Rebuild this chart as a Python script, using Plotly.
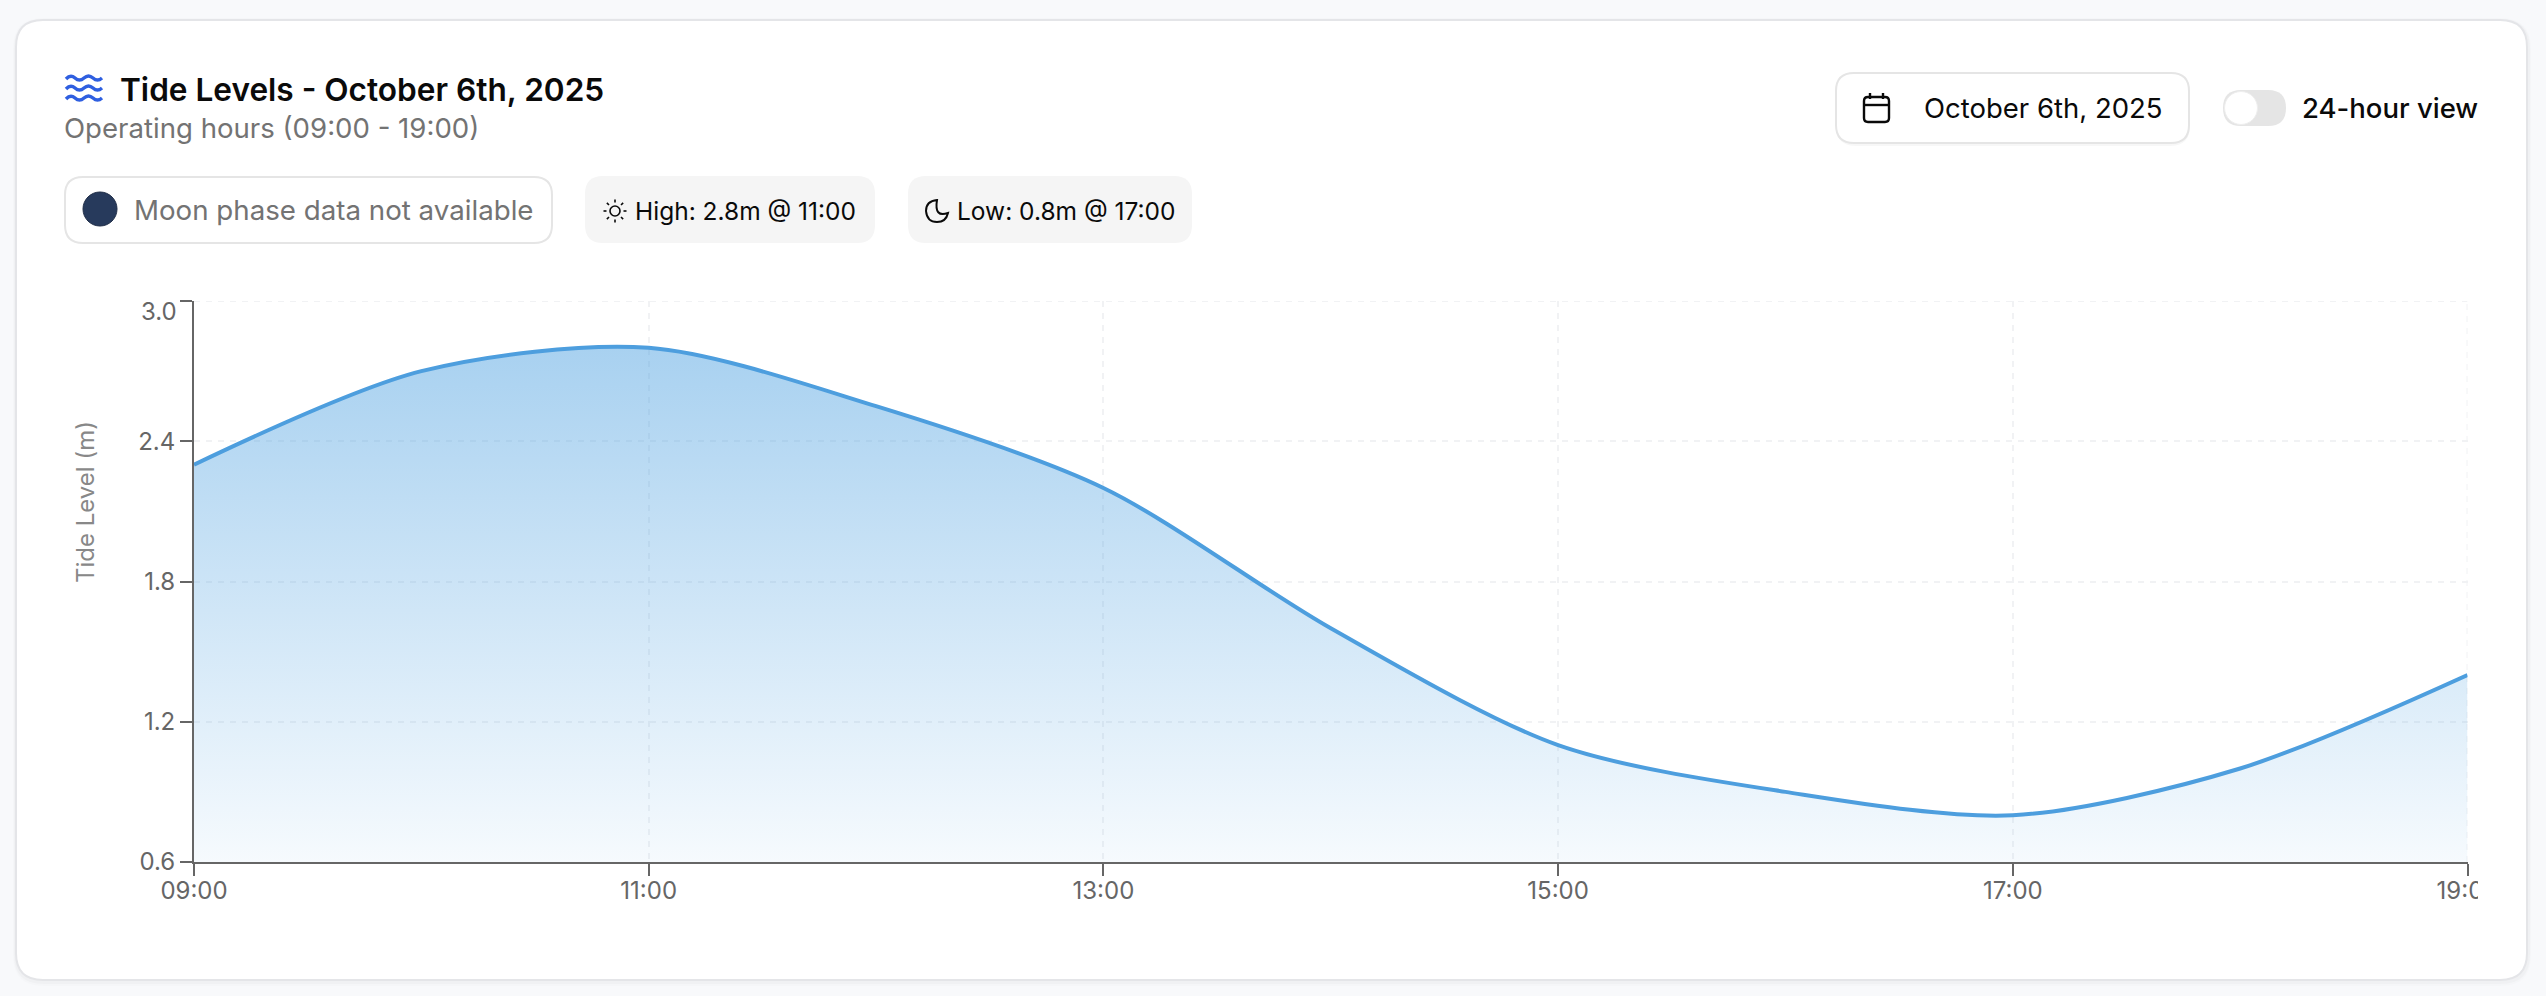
import math
import plotly.graph_objects as go

# values
hours = [9, 10, 11, 12, 13, 14, 15, 16, 17, 18, 19]
tide_level = [2.3, 2.7, 2.8, 2.55, 2.2, 1.6, 1.1, 0.9, 0.8, 1.0, 1.4]
baseline = [0.6] * len(hours)
x_ticks = [9, 11, 13, 15, 17, 19]
x_labels = ['09:00', '11:00', '13:00', '15:00', '17:00', '19:00']
y_ticks = [0.6, 1.2, 1.8, 2.4, 3.0]
y_labels = ['0.6', '1.2', '1.8', '2.4', '3.0']

W, H = 2546, 996
FONT = 'Inter'
DARK = '#0a0a0a'
GREY = '#737373'
AXIS = '#666666'
GRID = '#f1f2f4'


def fx(x):
    return x / W


def fy(y):
    return 1 - y / H


def rrect(x0, y0, x1, y1, r, fill='rgba(0,0,0,0)', line=None, width=2, layer='below'):
    p = (f'M {fx(x0 + r)} {fy(y0)} L {fx(x1 - r)} {fy(y0)} Q {fx(x1)} {fy(y0)} {fx(x1)} {fy(y0 + r)} '
         f'L {fx(x1)} {fy(y1 - r)} Q {fx(x1)} {fy(y1)} {fx(x1 - r)} {fy(y1)} '
         f'L {fx(x0 + r)} {fy(y1)} Q {fx(x0)} {fy(y1)} {fx(x0)} {fy(y1 - r)} '
         f'L {fx(x0)} {fy(y0 + r)} Q {fx(x0)} {fy(y0)} {fx(x0 + r)} {fy(y0)} Z')
    return dict(type='path', xref='paper', yref='paper', path=p, fillcolor=fill, layer=layer,
                line=dict(color=line if line else 'rgba(0,0,0,0)', width=width if line else 0))


def seg(x0, y0, x1, y1, color=DARK, width=2):
    return dict(type='line', xref='paper', yref='paper', x0=fx(x0), y0=fy(y0), x1=fx(x1), y1=fy(y1),
                layer='below', line=dict(color=color, width=width))


def circle(cx, cy, r, fill='rgba(0,0,0,0)', line=None, width=2, layer='below'):
    return dict(type='circle', xref='paper', yref='paper', x0=fx(cx - r), x1=fx(cx + r), y0=fy(cy - r), y1=fy(cy + r),
                fillcolor=fill, layer=layer,
                line=dict(color=line if line else 'rgba(0,0,0,0)', width=width if line else 0))


def wave(x0, y, w, color='#2f5fe0'):
    # two full periods, starting low
    s = w / 8
    a = 4
    p = f'M {fx(x0)} {fy(y + 1)}'
    for k in range(4):
        sign = -1 if k % 2 == 0 else 1
        p += f' Q {fx(x0 + (2 * k + 1) * s)} {fy(y + sign * a)} {fx(x0 + (2 * k + 2) * s)} {fy(y)}'
    return dict(type='path', xref='paper', yref='paper', path=p, layer='below', line=dict(color=color, width=3.4))


def label(x, y, text, size, color=DARK, weight=400):
    return dict(xref='paper', yref='paper', x=fx(x), y=fy(y), text=text, showarrow=False,
                xanchor='left', yanchor='middle', borderpad=0,
                font=dict(family=FONT, size=size, color=color, weight=weight))


fig = go.Figure()
fig.add_trace(go.Scatter(x=hours, y=baseline, mode='lines', line=dict(width=0), hoverinfo='skip', showlegend=False))
fig.add_trace(go.Scatter(
    x=hours, y=tide_level, mode='lines', fill='tonexty',
    line=dict(color='#4d9ede', width=4, shape='spline', smoothing=0.85),
    fillcolor='rgba(74,159,224,0.3)',
    fillgradient=dict(type='vertical', colorscale=[[0, 'rgba(74,159,224,0.05)'], [1, 'rgba(74,159,224,0.48)']]),
    showlegend=False,
))

shapes = []
# card with soft shadow
shapes.append(rrect(13, 18, 2531, 986, 30, fill='rgba(0,0,0,0.012)'))
shapes.append(rrect(14, 19, 2530, 984, 29, fill='rgba(0,0,0,0.02)'))
shapes.append(rrect(16, 20, 2527, 980, 27, fill='#ffffff', line='#e4e5e8', width=2))
# top and right gridlines, plotly leaves these out at the range ends
for sh in (
    dict(x0=x_ticks[0], x1=x_ticks[-1], y0=y_ticks[-1], y1=y_ticks[-1]),
    dict(x0=x_ticks[-1], x1=x_ticks[-1], y0=y_ticks[0], y1=y_ticks[-1]),
):
    shapes.append(dict(type='line', xref='x', yref='y', layer='below', line=dict(color=GRID, width=2, dash='6px,6px'), **sh))
# title icon
for wy in (78, 88, 98):
    shapes.append(wave(66, wy, 36))
# pills
shapes.append(rrect(65, 177, 552, 243, 18, fill='#ffffff', line='#e5e5e5', width=2))
shapes.append(circle(100, 209, 17, fill='#273a5c', line='#1f2d47', width=1))
shapes.append(rrect(585, 176, 875, 243, 18, fill='#f5f5f5'))
shapes.append(rrect(908, 176, 1192, 243, 18, fill='#f5f5f5'))
# sun icon
shapes.append(circle(615, 211, 5, line=DARK, width=1.6))
for k in range(8):
    ang = k * math.pi / 4
    shapes.append(seg(615 + 8.5 * math.cos(ang), 211 + 8.5 * math.sin(ang),
                      615 + 11.5 * math.cos(ang), 211 + 11.5 * math.sin(ang), width=1.6))
# moon icon
shapes.append(dict(type='path', xref='paper', yref='paper', layer='below', line=dict(color=DARK, width=2),
                   path=(f'M {fx(937)} {fy(200)} Q {fx(926)} {fy(201)} {fx(926)} {fy(211)} '
                         f'Q {fx(927)} {fy(222)} {fx(937)} {fy(222)} Q {fx(946)} {fy(222)} {fx(948)} {fy(213)} '
                         f'Q {fx(934)} {fy(218)} {fx(937)} {fy(200)} Z')))
# date button
shapes.append(rrect(1836, 74, 2190, 146, 20, fill='rgba(0,0,0,0.03)'))
shapes.append(rrect(1836, 73, 2189, 143, 18, fill='#ffffff', line='#e5e5e5', width=2))
shapes.append(rrect(1864, 97, 1889, 122, 4, line=DARK, width=2.4))
shapes.append(seg(1864, 105, 1889, 105, width=2.4))
shapes.append(seg(1870, 93, 1870, 99, width=2.4))
shapes.append(seg(1883, 93, 1883, 99, width=2.4))
# toggle
shapes.append(rrect(2223, 90, 2286, 126, 18, fill='#e5e5e5'))
shapes.append(circle(2241, 108, 16.5, fill='#ffffff', line='#eeeeee', width=1))
# the last tick label is cut off at the chart edge
shapes.append(dict(type='rect', xref='paper', yref='paper', x0=fx(2478), x1=fx(2515), y0=fy(868), y1=fy(905),
                   fillcolor='#ffffff', line=dict(width=0), layer='above'))

fig.update_layout(
    width=W, height=H, margin=dict(l=0, r=0, t=0, b=0),
    paper_bgcolor='#f8f9fb', plot_bgcolor='rgba(0,0,0,0)',
    font=dict(family=FONT, color=AXIS),
    hovermode=False, showlegend=False, shapes=shapes,
    annotations=[
        label(119, 89, 'Tide Levels - October 6th, 2025', 31.6, DARK, 600),
        label(63, 128, 'Operating hours (09:00 - 19:00)', 27.6, GREY),
        label(133, 210, 'Moon phase data not available', 27.7, GREY),
        label(634, 211, 'High: 2.8m @ 11:00', 24.5, DARK, 400),
        label(956, 211, 'Low: 0.8m @ 17:00', 24.5, DARK, 400),
        label(1923, 108, 'October 6th, 2025', 27.5, DARK, 400),
        label(2301, 108, '24-hour view', 27.5, DARK, 500),
        # top tick label sits below its tick in the reference
        dict(xref='paper', yref='paper', x=fx(178), y=fy(311), text=y_labels[-1], showarrow=False,
             xanchor='right', yanchor='middle', borderpad=0, font=dict(family=FONT, size=24, color=AXIS)),
        dict(xref='paper', yref='paper', x=fx(85), y=fy(502), text='Tide Level (m)', showarrow=False, textangle=-90,
             xanchor='center', yanchor='middle', borderpad=0, font=dict(family=FONT, size=24, color='#888888')),
    ],
)
fig.update_xaxes(
    automargin=False,
    domain=[fx(194), fx(2467.5)], range=[9, 19], tickvals=x_ticks, ticktext=x_labels,
    showline=True, linecolor=AXIS, linewidth=2, ticks='outside', ticklen=12, tickwidth=2, tickcolor=AXIS,
    tickfont=dict(family=FONT, size=24, color=AXIS), ticklabelstandoff=-6,
    showgrid=True, gridcolor=GRID, gridwidth=2, griddash='6px,6px', zeroline=False,
)
fig.update_yaxes(
    automargin=False,
    domain=[fy(862), fy(301)], range=[0.6, 3.0], tickvals=y_ticks, ticktext=y_labels[:-1] + [''],
    showline=True, linecolor=AXIS, linewidth=2, ticks='outside', ticklen=12, tickwidth=2, tickcolor=AXIS,
    tickfont=dict(family=FONT, size=24, color=AXIS),
    showgrid=True, gridcolor=GRID, gridwidth=2, griddash='6px,6px', zeroline=False,
)

fig.write_html('out.html', config=dict(displayModeBar=False),
               post_script="document.body.style.margin='0';document.body.style.overflow='hidden';")
